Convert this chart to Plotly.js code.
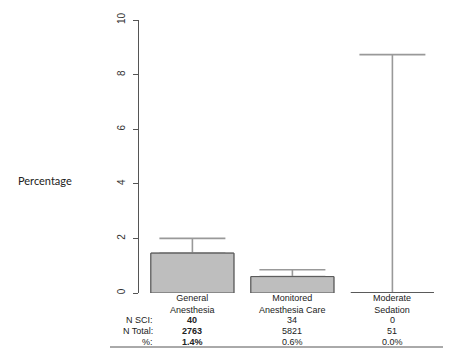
<!DOCTYPE html>
<html>
<head>
<meta charset="utf-8">
<script src="https://cdn.plot.ly/plotly-3.0.1.min.js"></script>
<style>html,body{margin:0;padding:0;background:#fff;}#chart{width:455px;height:358px;}</style>
</head>
<body>
<div id="chart"></div>
<script>
// ---- data ----
var categories = ["General<br>Anesthesia", "Monitored<br>Anesthesia Care", "Moderate<br>Sedation"];
var pctValues = [1.46, 0.6, 0];
var ciUpper = [2.0, 0.85, 8.73];
var nSci = ["40", "34", "0"];
var nTotal = ["2763", "5821", "51"];
var pctLabels = ["1.4%", "0.6%", "0.0%"];
var rowLabels = ["N SCI:", "N Total:", "%:"];
var yTicks = [0, 2, 4, 6, 8, 10];

// ---- geometry helpers ----
var W = 455, H = 358;
var mL = 139, mR = 12, mT = 20, mB = 65;
var plotH = H - mT - mB;
function py(p) { return (H - mB - p) / plotH; }   // pixel y -> paper y
var plotW = W - mL - mR;
function px(p) { return (p - mL) / plotW; }       // pixel x -> paper x

var idx = categories.map(function (_, i) { return i; });
var barWidth = 0.83;
var fill = '#bebebe', border = '#555555', errCol = '#999999';

var errPlus = ciUpper.map(function (u, i) { return u - pctValues[i]; });
var errMinus = pctValues.map(function () { return 0; });

var traces = [];
// bars with error bars
traces.push({
  type: 'bar', x: idx, y: pctValues, width: barWidth,
  marker: { color: fill, line: { color: border, width: 1 } },
  error_y: { type: 'data', symmetric: false, array: errPlus, arrayminus: errMinus,
             color: errCol, thickness: 1.6, width: 33 },
  hoverinfo: 'skip', showlegend: false
});
// same bars again on top (hides the lower error-bar cap)
traces.push({
  type: 'bar', x: idx, y: pctValues, width: barWidth,
  marker: { color: fill, line: { color: border, width: 1 } },
  hoverinfo: 'skip', showlegend: false
});
// zero-height bars: draw their outline
idx.forEach(function (i) {
  if (pctValues[i] === 0) {
    traces.push({
      type: 'scatter', mode: 'lines',
      x: [i - barWidth / 2, i + barWidth / 2], y: [pctValues[i], pctValues[i]],
      line: { color: border, width: 1.2 }, hoverinfo: 'skip', showlegend: false, cliponaxis: false
    });
  }
});

var annotations = [];
var font = { family: 'Liberation Sans, Arial, sans-serif', size: 9, color: '#222' };
// category labels
idx.forEach(function (i) {
  annotations.push({ xref: 'x', yref: 'paper', x: i, y: py(303.5), text: categories[i],
    showarrow: false, xanchor: 'center', yanchor: 'middle', font: font });
});
// table
var rows = [nSci, nTotal, pctLabels];
var rowY = [319.5, 330.7, 341.5];
rows.forEach(function (row, r) {
  annotations.push({ xref: 'paper', yref: 'paper', x: px(155), y: py(rowY[r]), text: rowLabels[r],
    showarrow: false, xanchor: 'right', yanchor: 'middle', font: font });
  row.forEach(function (v, i) {
    annotations.push({ xref: 'x', yref: 'paper', x: i, y: py(rowY[r]),
      text: i === 0 ? '<b>' + v + '</b>' : v,
      showarrow: false, xanchor: 'center', yanchor: 'middle', font: font });
  });
});
// y label
annotations.push({ xref: 'paper', yref: 'paper', x: px(16), y: py(180), text: 'Percentage',
  showarrow: false, xanchor: 'left', yanchor: 'middle',
  font: { family: 'Lato, Open Sans, sans-serif', size: 11, color: '#222' } });

var layout = {
  width: W, height: H,
  margin: { l: mL, r: mR, t: mT, b: mB, pad: 0 },
  paper_bgcolor: '#fff', plot_bgcolor: '#fff',
  barmode: 'overlay',
  showlegend: false,
  xaxis: { range: [-0.534, -0.534 + plotW / 100], showgrid: false, zeroline: false,
           showline: false, showticklabels: false, ticks: '', fixedrange: true },
  yaxis: { range: [0, 10], tickvals: yTicks, ticktext: yTicks.map(String),
           showgrid: false, zeroline: false, showline: true, linecolor: '#555', linewidth: 1,
           ticks: 'outside', ticklen: 5, tickcolor: '#555', tickwidth: 1,
           tickangle: -90, ticklabelstandoff: 4,
           tickfont: { family: 'Liberation Sans, Arial, sans-serif', size: 10, color: '#333' },
           fixedrange: true },
  annotations: annotations,
  shapes: [{ type: 'line', xref: 'paper', yref: 'paper', x0: px(110), x1: px(443),
             y0: py(347), y1: py(347), line: { color: '#555', width: 1 } }]
};

Plotly.newPlot('chart', traces, layout, { staticPlot: true, displayModeBar: false });
</script>
</body>
</html>
